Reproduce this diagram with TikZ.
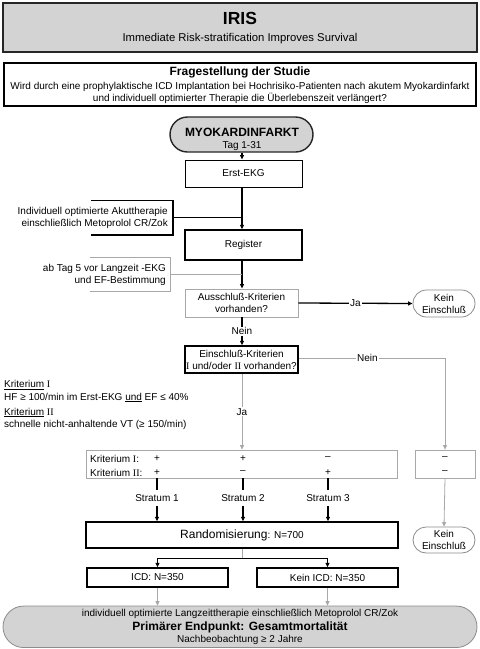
\documentclass[tikz,border=0pt]{standalone}
\usepackage{fontspec}
\setmainfont{Liberation Sans}
\newfontfamily\serifrom{Liberation Serif}
\usetikzlibrary{shapes.misc,arrows.meta}
\definecolor{boxgray}{HTML}{D3D3D3}
\definecolor{lgray}{HTML}{A8A8A8}
\definecolor{edgegray}{HTML}{8C8C8C}
\newcommand{\RomI}{{\serifrom I}}
\newcommand{\RomII}{{\serifrom II}}
\begin{document}
\begin{tikzpicture}[x=1pt,y=-1pt,
  every node/.style={font=\fontsize{10}{12}\selectfont, inner sep=0pt, align=center},
  thickbox/.style={draw=black, line width=1.5pt},
  medbox/.style={draw=black, line width=1pt},
  thinbox/.style={draw=lgray, line width=0.8pt},
  stadium/.style={rounded rectangle, draw=edgegray, line width=0.8pt},
  arr/.style={-{Triangle[length=4.5pt,width=4pt]}},
  blk/.style={draw=black, line width=1.3pt},
  blkthick/.style={draw=black, line width=1.8pt},
  gry/.style={draw=lgray, line width=0.8pt},
  lab/.style={fill=white, inner sep=1pt}
]
\useasboundingbox (0,0) rectangle (480,649);
\fill[white] (0,0) rectangle (480,649);

% header
\node[draw=black!85, line width=1.8pt, fill=boxgray, minimum width=474pt, minimum height=49pt] (iris) at (240,27.5) {};
\node (iristitle) at (240,18.5) {\fontsize{17.5}{20}\selectfont\bfseries IRIS};
\node (irissub) at (240,39) {\fontsize{11.3}{13}\selectfont Immediate Risk-stratification Improves Survival};

\node[draw=black, line width=1.6pt, minimum width=472pt, minimum height=43pt] (frage) at (240,84.5) {};
\node (fragetitle) at (240,72.5) {\fontsize{12}{14}\selectfont\bfseries Fragestellung der Studie};
\node (fragetext) at (240,93) {Wird durch eine prophylaktische ICD Implantation bei Hochrisiko-Patienten nach akutem Myokardinfarkt\\und individuell optimierter Therapie die Überlebenszeit verlängert?};

% main column
\node[stadium, draw=black!85, line width=1.4pt, fill=boxgray, minimum width=143pt, minimum height=35pt] (myo) at (241.5,134.5) {};
\node (myotitle) at (242,132.5) {\fontsize{12}{14}\selectfont\bfseries MYOKARDINFARKT};
\node (myotag) at (242,146.5) {Tag 1-31};

\node[medbox, minimum width=117pt, minimum height=27pt] (erst) at (243.5,173.5) {Erst-EKG};
\node[thickbox, minimum width=117pt, minimum height=30pt] (reg) at (243.5,245) {Register};
\node[thinbox, minimum width=113pt, minimum height=28pt] (aus) at (241.5,303) {Ausschluß-Kriterien\\vorhanden?};
\node[stadium, minimum width=62pt, minimum height=27pt] (kein1) at (444,303.5) {Kein\\Einschluß};
\node[thickbox, minimum width=113pt, minimum height=27pt] (ein) at (241.5,359.5) {Einschluß-Kriterien\\\RomI{} und/oder \RomII{} vorhanden?};

% side brackets
\node[anchor=east, align=right] (akut) at (168,217.5) {Individuell optimierte Akuttherapie\\einschließlich Metoprolol CR/Zok};
\coordinate (akutR) at (173,217.5);
\draw[blk, line width=1.5pt] (91,200.5) -- (173,200.5) -- (173,235) -- (91,235);
\node[anchor=east, align=right] (tag5) at (166,275) {ab Tag 5 vor Langzeit -EKG\\und EF-Bestimmung};
\coordinate (tag5R) at (170.5,274.5);
\draw[gry] (90,257.5) -- (170.5,257.5) -- (170.5,291.5) -- (90,291.5);

% criteria text
\node[anchor=west] (k1) at (4,385) {\underline{Kriterium} \RomI};
\node[anchor=west] (k1t) at (4,397.5) {HF ≥ 100/min im Erst-EKG \underline{und} EF ≤ 40\%};
\node[anchor=west] (k2) at (4,412.5) {\underline{Kriterium} \RomII};
\node[anchor=west] (k2t) at (4,425) {schnelle nicht-anhaltende VT (≥ 150/min)};

% table
\node[thinbox, minimum width=311pt, minimum height=28pt] (tab) at (241.5,464) {};
\node[anchor=west] (tr1) at (90,458.5) {Kriterium \RomI:};
\node[anchor=west] (tr2) at (90,472.5) {Kriterium \RomII:};
\node (c11) at (157,458.5) {+};
\node (c12) at (243,458.5) {+};
\node (c13) at (328,458.5) {–};
\node (c21) at (157,472.5) {+};
\node (c22) at (243,472.5) {–};
\node (c23) at (328,472.5) {+};
\node[thinbox, minimum width=60pt, minimum height=28pt] (small) at (445,464) {};
\node (s1) at (445,458.5) {–};
\node (s2) at (445,472.5) {–};

% strata
\node[minimum height=16pt] (st1) at (157,498) {Stratum 1};
\node[minimum height=16pt] (st2) at (243,498) {Stratum 2};
\node[minimum height=16pt] (st3) at (328,498) {Stratum 3};

\node[thickbox, minimum width=312pt, minimum height=26pt] (rand) at (242,535) {{\fontsize{12}{14}\selectfont Randomisierung}: N=700};
\node[stadium, minimum width=62pt, minimum height=26pt] (kein2) at (444,540) {Kein\\Einschluß};

\node[thickbox, minimum width=141pt, minimum height=19pt] (icd) at (157.5,577.5) {ICD: N=350};
\node[thickbox, minimum width=141pt, minimum height=19pt] (kicd) at (327.5,577.5) {Kein ICD: N=350};
\coordinate (split) at (242,558.5);

\node[stadium, fill=boxgray, minimum width=474pt, minimum height=41.5pt] (final) at (240,626.8) {};
\node (fin1) at (240,613.5) {individuell optimierte Langzeittherapie einschließlich Metoprolol CR/Zok};
\node (fin2) at (240,627) {\fontsize{12}{14}\selectfont\bfseries Primärer Endpunkt: Gesamtmortalität};
\node (fin3) at (240,639.5) {Nachbeobachtung ≥ 2 Jahre};

% connectors
\draw[blk, arr] (myo.south -| 242,0) -- (erst.north -| 242,0);
\draw[blk, arr] (erst.south -| 242,0) -- (reg.north -| 242,0);
\draw[blk, line width=1.5pt] (akutR) -- (akutR -| 242,0);
\draw[blkthick, arr] (reg.south -| 242,0) -- (aus.north -| 242,0);
\draw[gry] (tag5R) -- (tag5R -| 242,0);
\draw[blk, arr] (aus.east) -- node[lab] {Ja} (kein1.west);
\draw[blkthick, arr] (aus.south -| 242,0) -- node[lab] {Nein} (ein.north -| 242,0);
\draw[gry, arr] (ein.east |- 0,358) -- node[lab, pos=0.47] {Nein} (445,358) -- (small.north);
\draw[gry, arr] (ein.south -| 242,0) -- node[lab] {Ja} (tab.north -| 242,0);
\foreach \s in {st1,st2,st3}{
  \draw[blkthick] (tab.south -| \s) -- (\s.north);
  \draw[blk, arr] (\s.south) -- (rand.north -| \s);
}
\draw[gry, arr] (small.south) -- (kein2.north);
\draw[gry] (rand.south -| split) -- (split);
\draw[blk, arr] (split) -- (split -| icd) -- (icd.north);
\draw[blk, arr] (split) -- (split -| kicd) -- (kicd.north);
\draw[gry, arr] (icd.south) -- (final.north -| icd);
\draw[gry, arr] (kicd.south) -- (final.north -| kicd);
\end{tikzpicture}
\end{document}
